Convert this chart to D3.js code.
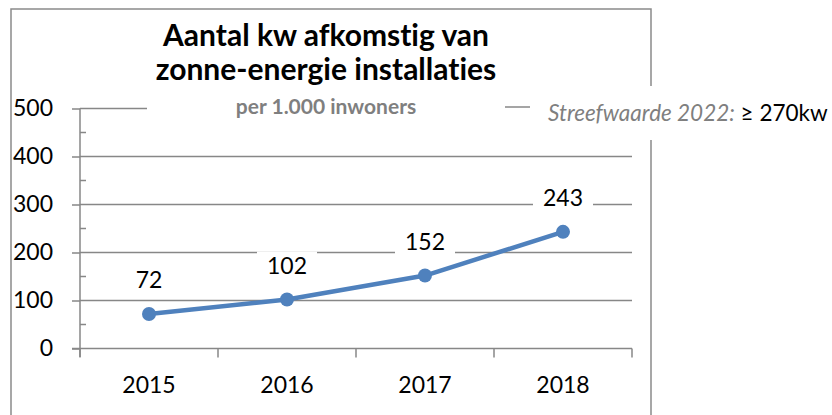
<!DOCTYPE html>
<html>
<head>
<meta charset="utf-8">
<script src="https://cdn.jsdelivr.net/npm/d3@7"></script>
<style>
  html, body { margin: 0; padding: 0; background: #fff; }
  svg { display: block; font-family: Lato, "Open Sans", sans-serif; font-variant-ligatures: none; font-feature-settings: "liga" 0; }
</style>
</head>
<body>
<script>
// Installed solar capacity (kW) per 1,000 inhabitants
const years = ["2015", "2016", "2017", "2018"];
const kwValues = [72, 102, 152, 243];
const yTicks = [0, 100, 200, 300, 400, 500];
const titleLines = ["Aantal kw afkomstig van", "zonne-energie installaties"];
const subtitle = "per 1.000 inwoners";
const legendLabel = "Streefwaarde 2022:";
const legendValue = "\u2265 270kw";

const W = 832, H = 415;
const svg = d3.select("body").append("svg").attr("width", W).attr("height", H);
svg.append("rect").attr("width", W).attr("height", H).attr("fill", "#fff");

const gridColor = "#878787";
const lineColor = "#4f81bd";

// chart frame
svg.append("rect")
  .attr("x", 11).attr("y", 9).attr("width", 640).attr("height", 420)
  .attr("fill", "none").attr("stroke", "#8a8a8a").attr("stroke-width", 1.5);

const x = d3.scaleBand().domain(years).range([80, 632]);
const y = d3.scaleLinear().domain([0, 500]).range([348.5, 108.5]);

// horizontal gridlines
svg.append("g").selectAll("line").data(yTicks.slice(1)).join("line")
  .attr("x1", 80).attr("x2", 632)
  .attr("y1", d => y(d)).attr("y2", d => y(d))
  .attr("stroke", gridColor).attr("stroke-width", 1.5);

// y axis with major ticks outside, minor ticks inside
const yAxis = svg.append("g").attr("transform", "translate(80,0)")
  .call(d3.axisLeft(y).tickValues(yTicks).tickSize(8).tickPadding(19).tickFormat(d3.format("d")));
yAxis.select(".domain").attr("d", `M0,${y(500)}V${y(0) + 8.5}`);
yAxis.selectAll("line, .domain").attr("stroke", gridColor).attr("stroke-width", 1.5);
yAxis.selectAll("text").attr("font-size", 23).attr("fill", "#000").attr("font-family", "Lato");
svg.append("g").selectAll("line").data(d3.range(50, 500, 100)).join("line")
  .attr("x1", 80).attr("x2", 86)
  .attr("y1", d => y(d)).attr("y2", d => y(d))
  .attr("stroke", gridColor).attr("stroke-width", 1.5);

// x axis with ticks at category boundaries
const xAxisG = svg.append("g").attr("transform", `translate(0,${y(0)})`);
xAxisG.append("line").attr("x1", 72).attr("x2", 632)
  .attr("stroke", gridColor).attr("stroke-width", 1.5);
const bounds = years.map(d => x(d)).concat([x(years[years.length - 1]) + x.bandwidth()]);
xAxisG.selectAll("line.tk").data(bounds).join("line").attr("class", "tk")
  .attr("x1", d => d).attr("x2", d => d).attr("y1", 0).attr("y2", 9)
  .attr("stroke", gridColor).attr("stroke-width", 1.5);
xAxisG.selectAll("text").data(years).join("text")
  .attr("x", d => x(d) + x.bandwidth() / 2).attr("y", 44)
  .attr("text-anchor", "middle").attr("font-size", 23).text(d => d);

// data series
const cx = (d, i) => x(years[i]) + x.bandwidth() / 2;
const line = d3.line().x((d, i) => cx(d, i)).y(d => y(d));
svg.append("path").datum(kwValues).attr("d", line)
  .attr("fill", "none").attr("stroke", lineColor).attr("stroke-width", 4.5)
  .attr("stroke-linejoin", "round");
svg.append("g").selectAll("circle").data(kwValues).join("circle")
  .attr("cx", cx).attr("cy", d => y(d)).attr("r", 7)
  .attr("fill", lineColor);

// data labels on white boxes
const lbl = svg.append("g").selectAll("g").data(kwValues).join("g")
  .attr("transform", (d, i) => `translate(${cx(d, i)},${y(d) - 34})`);
lbl.append("text").attr("text-anchor", "middle").attr("dy", "0.35em")
  .attr("font-size", 23).text(d => d);
lbl.each(function() {
  const g = d3.select(this);
  const bb = g.select("text").node().getBBox();
  g.insert("rect", "text").attr("x", bb.x - 10).attr("y", -14)
    .attr("width", bb.width + 20).attr("height", 28).attr("fill", "#fff");
});

// title block
const titleG = svg.append("g");
titleG.append("rect").attr("x", 147).attr("y", 12).attr("width", 358).attr("height", 108).attr("fill", "#fff");
titleG.selectAll("text.t").data(titleLines).join("text").attr("class", "t")
  .attr("x", 326).attr("y", (d, i) => 46 + i * 34)
  .attr("text-anchor", "middle").attr("font-weight", "bold").attr("font-size", 30)
  .attr("fill", "#000").text(d => d);
titleG.append("text").attr("x", 326).attr("y", 114)
  .attr("text-anchor", "middle").attr("font-weight", "bold").attr("font-size", 21)
  .attr("fill", "#7f7f7f").text(subtitle);

// legend
const legG = svg.append("g");
legG.append("rect").attr("x", 500).attr("y", 86).attr("width", 332).attr("height", 54).attr("fill", "#fff");
legG.append("line").attr("x1", 505).attr("x2", 530).attr("y1", 107).attr("y2", 107)
  .attr("stroke", gridColor).attr("stroke-width", 1.5);
const legText = legG.append("text").attr("x", 548).attr("y", 121).attr("font-size", 22.5);
legText.append("tspan").attr("font-style", "italic").attr("fill", "#7f7f7f").text(legendLabel);
legText.append("tspan").attr("fill", "#000").text(" " + legendValue);
</script>
</body>
</html>
